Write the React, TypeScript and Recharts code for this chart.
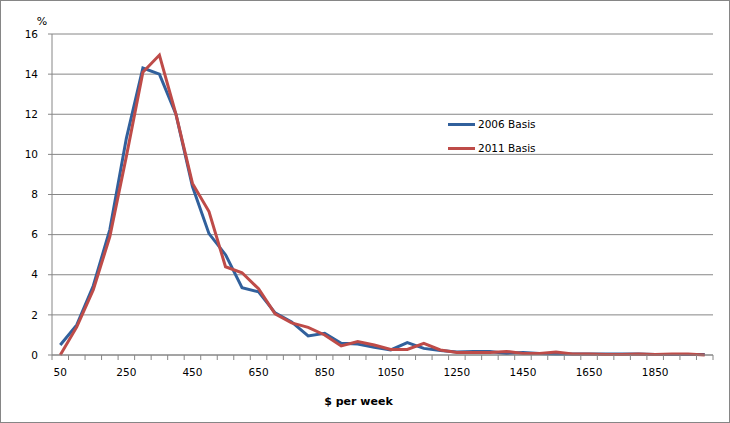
import React from 'react';
import { LineChart, Line, XAxis, YAxis, CartesianGrid, Legend, Label } from 'recharts';

// $ per week, one category every $50
const weeklyIncome = [
  50, 100, 150, 200, 250, 300, 350, 400, 450, 500,
  550, 600, 650, 700, 750, 800, 850, 900, 950, 1000,
  1050, 1100, 1150, 1200, 1250, 1300, 1350, 1400, 1450, 1500,
  1550, 1600, 1650, 1700, 1750, 1800, 1850, 1900, 1950, 2000,
];

// % of persons
const basis2006 = [
  0.5, 1.5, 3.45, 6.25, 10.8, 14.3, 14.0, 12.0, 8.4, 6.05,
  5.0, 3.35, 3.15, 2.1, 1.65, 0.95, 1.08, 0.58, 0.55, 0.38,
  0.25, 0.62, 0.33, 0.22, 0.15, 0.18, 0.18, 0.08, 0.13, 0.08,
  0.05, 0.05, 0.05, 0.05, 0.05, 0.05, 0.03, 0.03, 0.03, 0.02,
];

const basis2011 = [
  0, 1.4, 3.25, 5.9, 9.9, 14.1, 14.95, 12.0, 8.55, 7.15,
  4.4, 4.1, 3.3, 2.05, 1.6, 1.38, 1.0, 0.45, 0.67, 0.5,
  0.28, 0.28, 0.58, 0.25, 0.12, 0.13, 0.13, 0.18, 0.08, 0.07,
  0.15, 0.05, 0.05, 0.03, 0.03, 0.05, 0.03, 0.05, 0.05, 0,
];

const incomeTicks = [50, 250, 450, 650, 850, 1050, 1250, 1450, 1650, 1850];
const percentTicks = [0, 2, 4, 6, 8, 10, 12, 14, 16];

const data = weeklyIncome.map((income, i) => ({
  income,
  b2006: basis2006[i],
  b2011: basis2011[i],
}));

// tick marks sit between categories, like an Excel category axis
const halfStep = (weeklyIncome[1] - weeklyIncome[0]) / 2;
const boundaryTicks = [
  ...weeklyIncome.map((v) => v - halfStep),
  weeklyIncome[weeklyIncome.length - 1] + halfStep,
];
const xDomain = [boundaryTicks[0], boundaryTicks[boundaryTicks.length - 1]];

const FONT = 'DejaVu Sans';
const GREY = '#868686';

const renderLegend = (props: any) => {
  const { payload } = props;
  return (
    <div style={{ fontFamily: FONT }}>
      {payload.map((entry: any) => (
        <div key={entry.value} style={{ display: 'flex', alignItems: 'center', height: 24 }}>
          <span style={{ display: 'inline-block', width: 27, height: 3, background: entry.color, marginRight: 3 }} />
          <span style={{ fontSize: 10.5, color: '#000' }}>{entry.value}</span>
        </div>
      ))}
    </div>
  );
};

export default function App() {
  return (
    <div
      style={{
        position: 'absolute',
        left: 0,
        top: 0,
        width: 730,
        height: 423,
        border: `1px solid ${GREY}`,
        boxSizing: 'border-box',
        background: '#fff',
        fontFamily: FONT,
      }}
    >
      <LineChart width={728} height={421} data={data} margin={{ top: 33, right: 16, bottom: 0, left: 0 }}>
        <CartesianGrid xAxisId={1} vertical={false} stroke={GREY} />
        <XAxis
          xAxisId={0}
          type="number"
          dataKey="income"
          domain={xDomain}
          ticks={boundaryTicks}
          interval={0}
          tickFormatter={() => ''}
          tickSize={5}
          height={1}
          stroke={GREY}
        />
        <XAxis
          xAxisId={1}
          type="number"
          dataKey="income"
          domain={xDomain}
          ticks={incomeTicks}
          interval={0}
          axisLine={false}
          tickLine={false}
          tickSize={0}
          tickMargin={13}
          height={66}
          tick={{ fill: '#000', fontSize: 10.5, fontFamily: FONT }}
        >
          <Label
            value="$ per week"
            position="insideBottom"
            offset={17}
            dx={-24}
            style={{ fill: '#000', fontSize: 11, fontWeight: 'bold', fontFamily: FONT }}
          />
        </XAxis>
        <YAxis
          type="number"
          domain={[0, 16]}
          ticks={percentTicks}
          interval={0}
          width={51}
          tickSize={4}
          tickMargin={10}
          stroke={GREY}
          tick={{ fill: '#000', fontSize: 10.5, fontFamily: FONT }}
        >
          <Label
            value="%"
            position="top"
            offset={9}
            dx={15.5}
            style={{ fill: '#000', fontSize: 11, fontFamily: FONT }}
          />
        </YAxis>
        <Legend
          layout="vertical"
          align="center"
          verticalAlign="middle"
          content={renderLegend}
          wrapperStyle={{ left: 447, top: 111, width: 'auto' }}
        />
        <Line
          xAxisId={1}
          type="linear"
          dataKey="b2006"
          name="2006 Basis"
          stroke="#31609C"
          strokeWidth={3}
          dot={false}
          isAnimationActive={false}
        />
        <Line
          xAxisId={1}
          type="linear"
          dataKey="b2011"
          name="2011 Basis"
          stroke="#BE4B48"
          strokeWidth={3}
          dot={false}
          isAnimationActive={false}
        />
      </LineChart>
    </div>
  );
}
